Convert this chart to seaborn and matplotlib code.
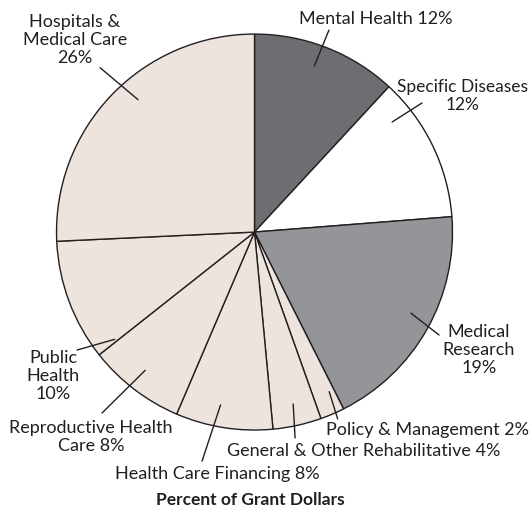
import numpy as np
import seaborn as sns
import matplotlib.pyplot as plt

# slices, clockwise from 12 o'clock
labels = ["Mental Health 12%", "Specific Diseases\n12%", "Medical\nResearch\n19%",
          "Policy & Management 2%", "General & Other Rehabilitative 4%",
          "Health Care Financing 8%", "Reproductive Health\nCare 8%",
          "Public\nHealth\n10%", "Hospitals &\nMedical Care\n26%"]
shares = [12, 12, 19, 2, 4, 8, 8, 10, 26]
colors = ["#6d6e71", "#ffffff", "#939598", "#ede4de", "#ede4de",
          "#ede4de", "#ede4de", "#ede4de", "#ede4de"]

# label layout: text position, text alignment, outer end of leader, angle nudge of inner end
text_xy = [(0.614, 1.076), (1.05, 0.687), (1.134, -0.596), (0.361, -1.0),
           (-0.139, -1.106), (-0.705, -1.222), (-0.826, -1.035), (-1.018, -0.727),
           (-0.907, 0.97)]
text_ha = ["center", "center", "center", "left", "left", "left", "center", "center", "center"]
lead_out = [(0.376, 1.02), (0.846, 0.652), (0.932, -0.52), (0.42, -0.944),
            (0.205, -1.04), (-0.265, -1.157), (-0.77, -0.914), (-0.896, -0.596),
            (-0.78, 0.83)]
lead_nudge = [1.6, 12.8, 2.0, 1.9, 0.2, -2.2, -0.9, 17.0, -5.0]

sns.set_theme(style="white")
plt.rcParams["font.family"] = ["Lato", "DejaVu Sans"]

fig = plt.figure(figsize=(5.32, 5.12), dpi=100)
ax = fig.add_axes([0, 0, 1, 1])

wedges, _ = ax.pie(shares, colors=colors, startangle=90, counterclock=False,
                   radius=1.0, wedgeprops=dict(edgecolor="#231f20", linewidth=1.0))

for w, lab, (tx, ty), ha, (ox, oy), nudge in zip(wedges, labels, text_xy, text_ha,
                                                 lead_out, lead_nudge):
    mid = np.deg2rad((w.theta1 + w.theta2) / 2 + nudge)
    ix, iy = 0.89 * np.cos(mid), 0.89 * np.sin(mid)
    ax.plot([ix, ox], [iy, oy], color="#231f20", lw=1.0)
    ax.text(tx, ty, lab, ha=ha, va="center", multialignment="center",
            fontsize=13 if "Specific" not in lab else 12.5, color="#231f20",
            linespacing=1.12)

ax.text(-0.023, -1.354, "Percent of Grant Dollars", ha="center", va="center",
        fontsize=12.5, fontweight="bold", color="#231f20")

ax.set_xlim(-1.285, 1.401)
ax.set_ylim(-1.414, 1.172)
ax.set_aspect("equal")
ax.axis("off")

fig.savefig("out.png", dpi=100, facecolor="white")
